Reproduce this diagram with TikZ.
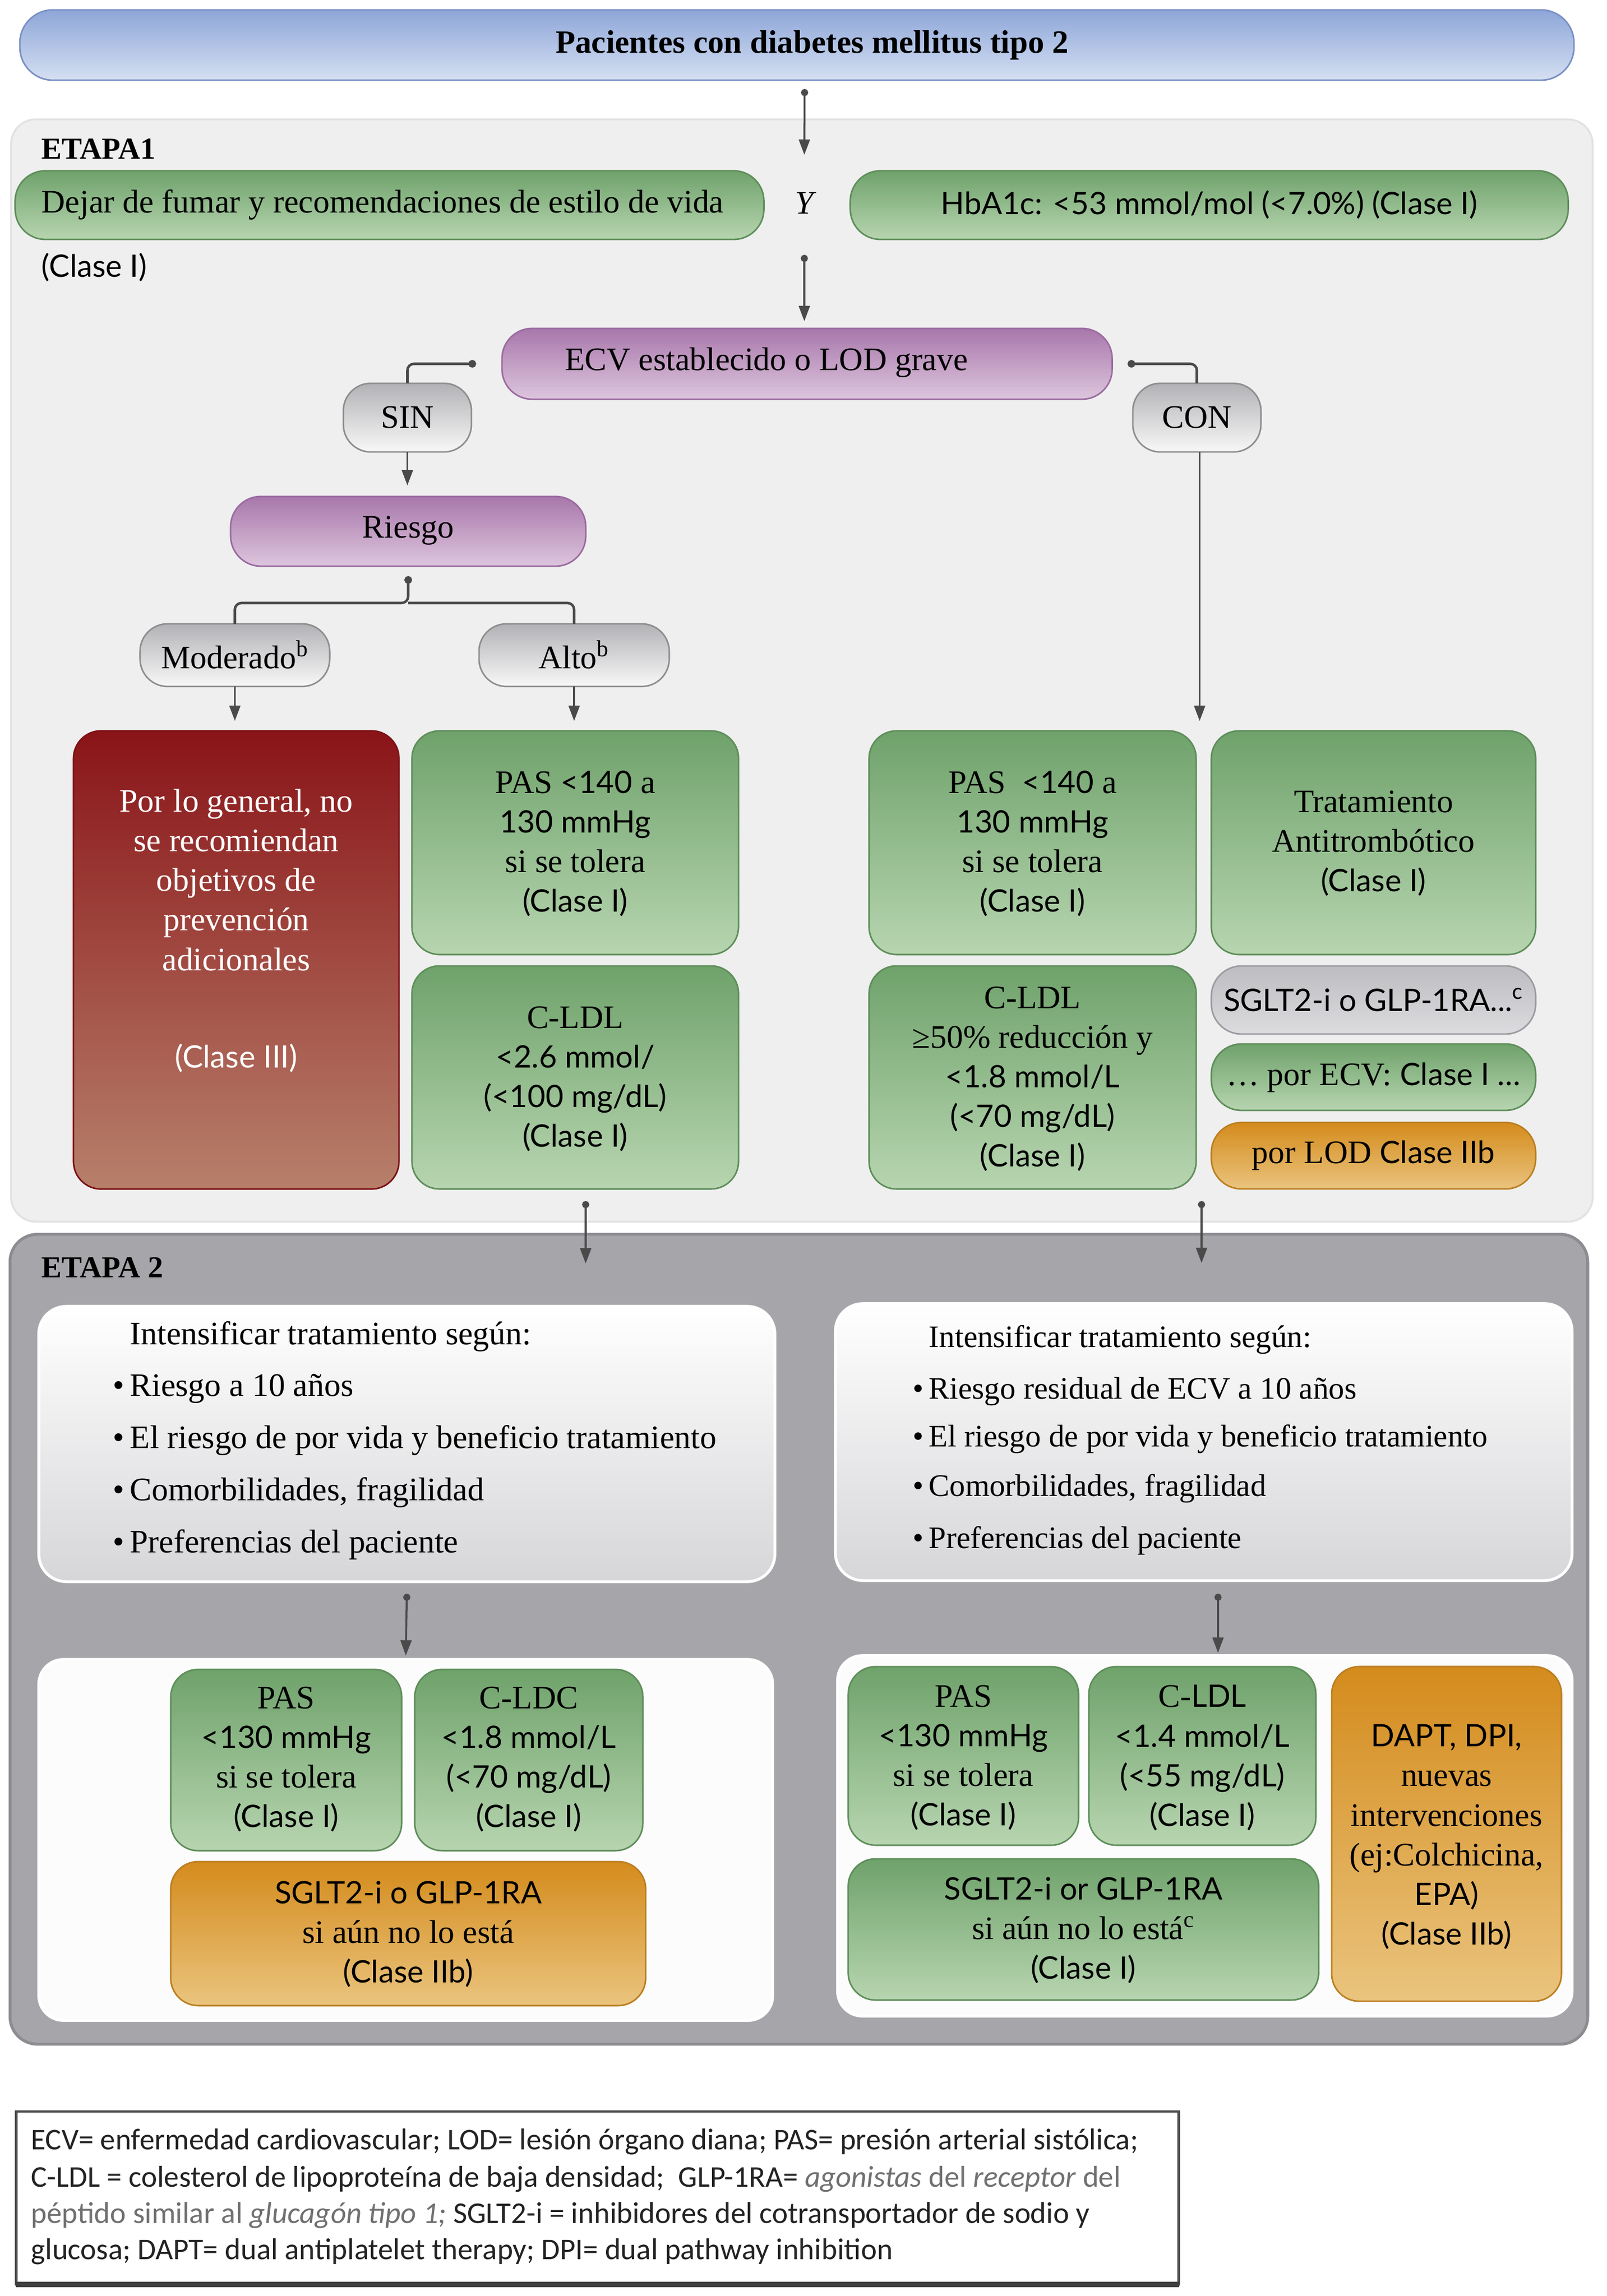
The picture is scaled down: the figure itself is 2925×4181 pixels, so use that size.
\documentclass[tikz,border=0pt]{standalone}
\usepackage{fontspec}
\setmainfont{Liberation Serif}
\setsansfont{Lato}
\newfontfamily\legfont{Carlito}
\usetikzlibrary{arrows.meta,calc,shadows}

\definecolor{blueT}{HTML}{8DA6D8}\definecolor{blueB}{HTML}{D5DFF2}\definecolor{blueD}{HTML}{7A90C4}
\definecolor{grnT}{HTML}{6FA26B}\definecolor{grnB}{HTML}{B7D5B0}\definecolor{grnD}{HTML}{5E8E5A}
\definecolor{purT}{HTML}{A877AB}\definecolor{purB}{HTML}{DDC5DD}\definecolor{purD}{HTML}{9B6BA0}
\definecolor{redT}{HTML}{8A1418}\definecolor{redB}{HTML}{B7806B}\definecolor{redD}{HTML}{7B1215}
\definecolor{orT}{HTML}{D48B1C}\definecolor{orB}{HTML}{EAC47E}\definecolor{orD}{HTML}{BB7F22}
\definecolor{gryT}{HTML}{B2B2B6}\definecolor{gryB}{HTML}{F8F8F8}\definecolor{gryD}{HTML}{8E8E8E}
\definecolor{sgT}{HTML}{BDBDC1}\definecolor{sgB}{HTML}{DCDCDF}\definecolor{sgD}{HTML}{9C9CA0}
\definecolor{panAc}{HTML}{EFEFEF}\definecolor{panAd}{HTML}{E2E2E2}
\definecolor{panBc}{HTML}{A6A6AA}\definecolor{panBd}{HTML}{8D8D91}
\definecolor{intB}{HTML}{D6D6D9}
\definecolor{arrc}{HTML}{4A4A4A}
\definecolor{leggray}{HTML}{707070}
\definecolor{legtxt}{HTML}{222222}

\newcommand\gs[1]{{\sffamily\fontsize{16}{20.5}\selectfont #1}}

\newcommand\boxonly[6]{%
 \pgfmathsetmacro\bcx{(#2+#4)/2}%
 \pgfmathsetmacro\bcy{(#3+#5)/2}%
 \pgfmathsetmacro\bw{(#4-#2)/100}%
 \pgfmathsetmacro\bh{(#5-#3)/100}%
 \node[#6, minimum width=\bw cm, minimum height=\bh cm] (#1) at (\bcx,\bcy) {};}
\newcommand\mybox[8]{%
 \boxonly{#1}{#2}{#3}{#4}{#5}{#6}%
 \node[txt] (#1-t) at (\bcx,#7) {#8};}

\tikzset{
 box/.style={draw, line width=0.8pt, inner sep=0pt, outer sep=0pt},
 txt/.style={align=center, inner sep=0pt, font=\fontsize{17}{20.5}\selectfont},
 ltxt/.style={anchor=west, inner sep=0pt, font=\fontsize{17}{20.5}\selectfont},
 rtxt/.style={anchor=west, inner sep=0pt, font=\fontsize{16.2}{20}\selectfont},
 bluepill/.style={box, top color=blueT, bottom color=blueB, draw=blueD, rounded corners=0.6cm},
 grn/.style={box, top color=grnT, bottom color=grnB, draw=grnD, rounded corners=0.5cm},
 grnpill/.style={box, top color=grnT, bottom color=grnB, draw=grnD, rounded corners=0.55cm},
 pur/.style={box, top color=purT, bottom color=purB, draw=purD, rounded corners=0.55cm},
 gpill/.style={box, top color=gryT, bottom color=gryB, draw=gryD, rounded corners=0.5cm},
 redbox/.style={box, top color=redT, bottom color=redB, draw=redD, rounded corners=0.5cm},
 orbox/.style={box, top color=orT, bottom color=orB, draw=orD, rounded corners=0.5cm},
 orpill/.style={box, top color=orT, bottom color=orB, draw=orD, rounded corners=0.55cm},
 sgpill/.style={box, top color=sgT, bottom color=sgB, draw=sgD, rounded corners=0.55cm},
 panelA/.style={box, fill=panAc, draw=panAd, line width=1pt, rounded corners=0.45cm},
 panelB/.style={box, fill=panBc, draw=panBd, line width=1.5pt, rounded corners=0.5cm},
 intbox/.style={box, top color=white, bottom color=intB, draw=white, line width=1.5pt, rounded corners=0.5cm},
 contbox/.style={box, fill=white!98!gray, draw=white, line width=1.5pt, rounded corners=0.45cm},
 legbox/.style={box, fill=white, draw=black!70, line width=1.3pt},
 arr/.style={draw=arrc, line width=1pt, arrows={-Triangle[length=2.8mm,width=2mm]}},
 darr/.style={draw=arrc, line width=1pt, arrows={Circle[length=1.3mm]-Triangle[length=2.8mm,width=2mm]}},
 conn/.style={draw=arrc, line width=1.3pt, rounded corners=0.12cm, arrows={Circle[length=1.4mm]-}},
 plain/.style={draw=arrc, line width=1.3pt, rounded corners=0.12cm},
 etapa/.style={anchor=west, inner sep=0pt, font=\bfseries\fontsize{15.8}{18}\selectfont},
 legl/.style={anchor=west, inner sep=0pt, text=legtxt, font=\legfont\fontsize{15.6}{19}\selectfont},
}

\begin{document}
\begin{tikzpicture}[x=0.01cm,y=-0.01cm]
\useasboundingbox (0,0) rectangle (2925,4181);
\fill[white] (0,0) rectangle (2925,4181);

% panels
\boxonly{etapa1}{21}{218}{2898}{2224}{panelA}
\boxonly{etapa2}{19}{2248}{2889}{3722}{panelB}
\node[etapa] (lab1) at (75,271) {ETAPA1};
\node[etapa] (lab2) at (75,2308) {ETAPA 2};

% title
\boxonly{title}{37}{18}{2864}{146}{bluepill}
\node[txt] (title-t) at (1478,82) {\bfseries\fontsize{16.8}{20}\selectfont Pacientes con diabetes mellitus tipo 2};

% lifestyle row
\boxonly{life}{28}{311}{1390}{436}{grnpill}
\node[ltxt] (life-t) at (75,373) {Dejar de fumar y recomendaciones de estilo de vida};
\node[ltxt] (life-c) at (75,487) {\gs{(Clase I)}};
\node[txt, font=\itshape\fontsize{17}{20}\selectfont] (ylab) at (1464,370) {Y};
\mybox{hba}{1548}{311}{2854}{436}{grnpill}{373}{\gs{HbA1c: <53 mmol/mol (<7.0\%) (Clase I)}}

% ECV
\boxonly{ecv}{914}{598}{2024}{727}{pur}
\node[txt] (ecv-t) at (1395,660) {ECV establecido o LOD grave};
\mybox{sin}{625}{698}{858}{823}{gpill}{760}{SIN}
\mybox{con}{2062}{698}{2295}{823}{gpill}{760}{CON}
\mybox{riesgo}{420}{904}{1066}{1031}{pur}{966}{Riesgo}
\mybox{mod}{255}{1136}{600}{1250}{gpill}{1192}{Moderado\textsuperscript{b}}
\mybox{alto}{872}{1136}{1218}{1250}{gpill}{1192}{Alto\textsuperscript{b}}

% stage 1 targets
\boxonly{red}{134}{1331}{726}{2165}{redbox}
\node[txt, text=white] (red-t) at (430,1695) {Por lo general, no\\se recomiendan\\objetivos de\\prevención\\adicionales\\[30pt]\gs{(Clase III)}};
\mybox{pasL}{750}{1331}{1344}{1738}{grn}{1536}{PAS \gs{<140} a\\\gs{130 mmHg}\\si se tolera\\\gs{(Clase I)}}
\mybox{ldlL}{750}{1759}{1344}{2165}{grn}{1965}{C-LDL\\\gs{<2.6 mmol/}\\\gs{(<100 mg/dL)}\\\gs{(Clase I)}}
\mybox{pasR}{1582}{1331}{2177}{1738}{grn}{1536}{PAS\ \ \gs{<140} a\\\gs{130 mmHg}\\si se tolera\\\gs{(Clase I)}}
\mybox{trat}{2205}{1331}{2795}{1738}{grn}{1536}{Tratamiento\\Antitrombótico\\\gs{(Clase I)}}
\mybox{ldlR}{1582}{1759}{2177}{2165}{grn}{1965}{C-LDL\\≥50\% reducción y\\\gs{<1.8 mmol/L}\\\gs{(<70 mg/dL)}\\\gs{(Clase I)}}
\mybox{sglt}{2205}{1759}{2795}{1883}{sgpill}{1821}{\gs{SGLT2-i o GLP-1RA...\textsuperscript{c}}}
\mybox{porecv}{2205}{1901}{2795}{2022}{grnpill}{1962}{… por ECV: \gs{Clase I …}}
\mybox{porlod}{2205}{2044}{2795}{2165}{orpill}{2104}{por LOD \gs{Clase IIb}}

% stage 2
\boxonly{intL}{71}{2379}{1410}{2880}{intbox}
\node[ltxt] (intL-h) at (236,2434) {Intensificar tratamiento según:};
\node[ltxt] (intL-1) at (236,2529) {\llap{•\,}Riesgo a 10 años};
\node[ltxt] (intL-2) at (236,2623) {\llap{•\,}El riesgo de por vida y beneficio tratamiento};
\node[ltxt] (intL-3) at (236,2718) {\llap{•\,}Comorbilidades, fragilidad};
\node[ltxt] (intL-4) at (236,2813) {\llap{•\,}Preferencias del paciente};

\boxonly{intR}{1521}{2374}{2861}{2878}{intbox}
\node[rtxt] (intR-h) at (1690,2440) {Intensificar tratamiento según:};
\node[rtxt] (intR-1) at (1690,2534) {\llap{•\,}Riesgo residual de ECV a 10 años};
\node[rtxt] (intR-2) at (1690,2621) {\llap{•\,}El riesgo de por vida y beneficio tratamiento};
\node[rtxt] (intR-3) at (1690,2711) {\llap{•\,}Comorbilidades, fragilidad};
\node[rtxt] (intR-4) at (1690,2805) {\llap{•\,}Preferencias del paciente};

\boxonly{contL}{71}{3022}{1406}{3679}{contbox}
\boxonly{contR}{1525}{3015}{2861}{3671}{contbox}
\mybox{pasL2}{311}{3040}{731}{3370}{grn}{3204}{PAS\\\gs{<130 mmHg}\\si se tolera\\\gs{(Clase I)}}
\mybox{ldcL2}{755}{3040}{1170}{3370}{grn}{3204}{C-LDC\\\gs{<1.8 mmol/L}\\\gs{(<70 mg/dL)}\\\gs{(Clase I)}}
\mybox{sgltL2}{311}{3390}{1175}{3652}{orbox}{3522}{\gs{SGLT2-i o GLP-1RA}\\si aún no lo está\\\gs{(Clase IIb)}}
\mybox{pasR2}{1544}{3035}{1963}{3360}{grn}{3201}{PAS\\\gs{<130 mmHg}\\si se tolera\\\gs{(Clase I)}}
\mybox{ldlR2}{1982}{3035}{2395}{3360}{grn}{3201}{C-\gs{LDL}\\\gs{<1.4 mmol/L}\\\gs{(<55 mg/dL)}\\\gs{(Clase I)}}
\mybox{sgltR2}{1544}{3385}{2400}{3642}{grn}{3515}{\gs{SGLT2-i or GLP-1RA}\\si aún no lo está\textsuperscript{c}\\\gs{(Clase I)}}
\mybox{dapt}{2424}{3035}{2842}{3644}{orbox}{3345}{\gs{DAPT, DPI,}\\nuevas\\intervenciones\\(ej:Colchicina,\\\gs{EPA)}\\\gs{(Clase IIb)}}

% legend
\boxonly{leg}{30}{3845}{2145}{4160}{legbox}
\draw[black!75, line width=3pt] (leg.south west) -- (leg.south east);
\node[legl] (leg1) at (56,3900) {ECV= enfermedad cardiovascular; LOD= lesión órgano diana; PAS= presión arterial sistólica;};
\node[legl] (leg2) at (56,3968) {C-LDL = colesterol de lipoproteína de baja densidad;\ \ GLP-1RA= {\color{leggray}\itshape agonistas} {\color{leggray}del \textit{receptor} del}};
\node[legl] (leg3) at (56,4034) {{\color{leggray}péptido similar al \textit{glucagón tipo 1;}} SGLT2-i = inhibidores del cotransportador de sodio y};
\node[legl] (leg4) at (56,4100) {glucosa; DAPT= dual antiplatelet therapy; DPI= dual pathway inhibition};

% connectors
\coordinate (a1e) at (1464,282);
\draw[darr] ([xshift=0.14cm,yshift=-0.16cm]title.south) -- (a1e);
\coordinate (a2s) at (1464,464);
\draw[darr, shorten >=0.13cm] (a2s) -- (a2s |- ecv.north);
\draw[conn] ([xshift=-0.47cm]ecv.west) -| (sin.north);
\draw[conn] ([xshift=0.28cm]ecv.east) -| (con.north);
\draw[arr, shorten >=0.2cm] (sin.south) -- (sin.south |- riesgo.north);
\coordinate (rj) at (743,1098);
\draw[conn] ([yshift=-0.18cm]riesgo.south) -- (rj) -| (mod.north);
\draw[plain] (rj) -| (alto.north);
\draw[arr, shorten >=0.18cm] (mod.south) -- (mod.south |- red.north);
\draw[arr, shorten >=0.18cm] (alto.south) -- (alto.south |- pasL.north);
\draw[arr, shorten >=0.18cm] ([xshift=0.05cm]con.south) -- ([xshift=0.05cm]con.south |- pasR.north);
\coordinate (e2ls) at (1066,2187); \coordinate (e2le) at (1066,2301);
\draw[darr] (e2ls) -- (e2le);
\coordinate (e2rs) at (2187,2187); \coordinate (e2re) at (2187,2300);
\draw[darr] (e2rs) -- (e2re);
\draw[darr, shorten >=0.07cm] ([yshift=-0.22cm]intL.south) -- (contL.north);
\coordinate (i2rs) at (2217,2902);
\draw[darr, shorten >=0.05cm] (i2rs) -- (i2rs |- contR.north);
\end{tikzpicture}
\end{document}
